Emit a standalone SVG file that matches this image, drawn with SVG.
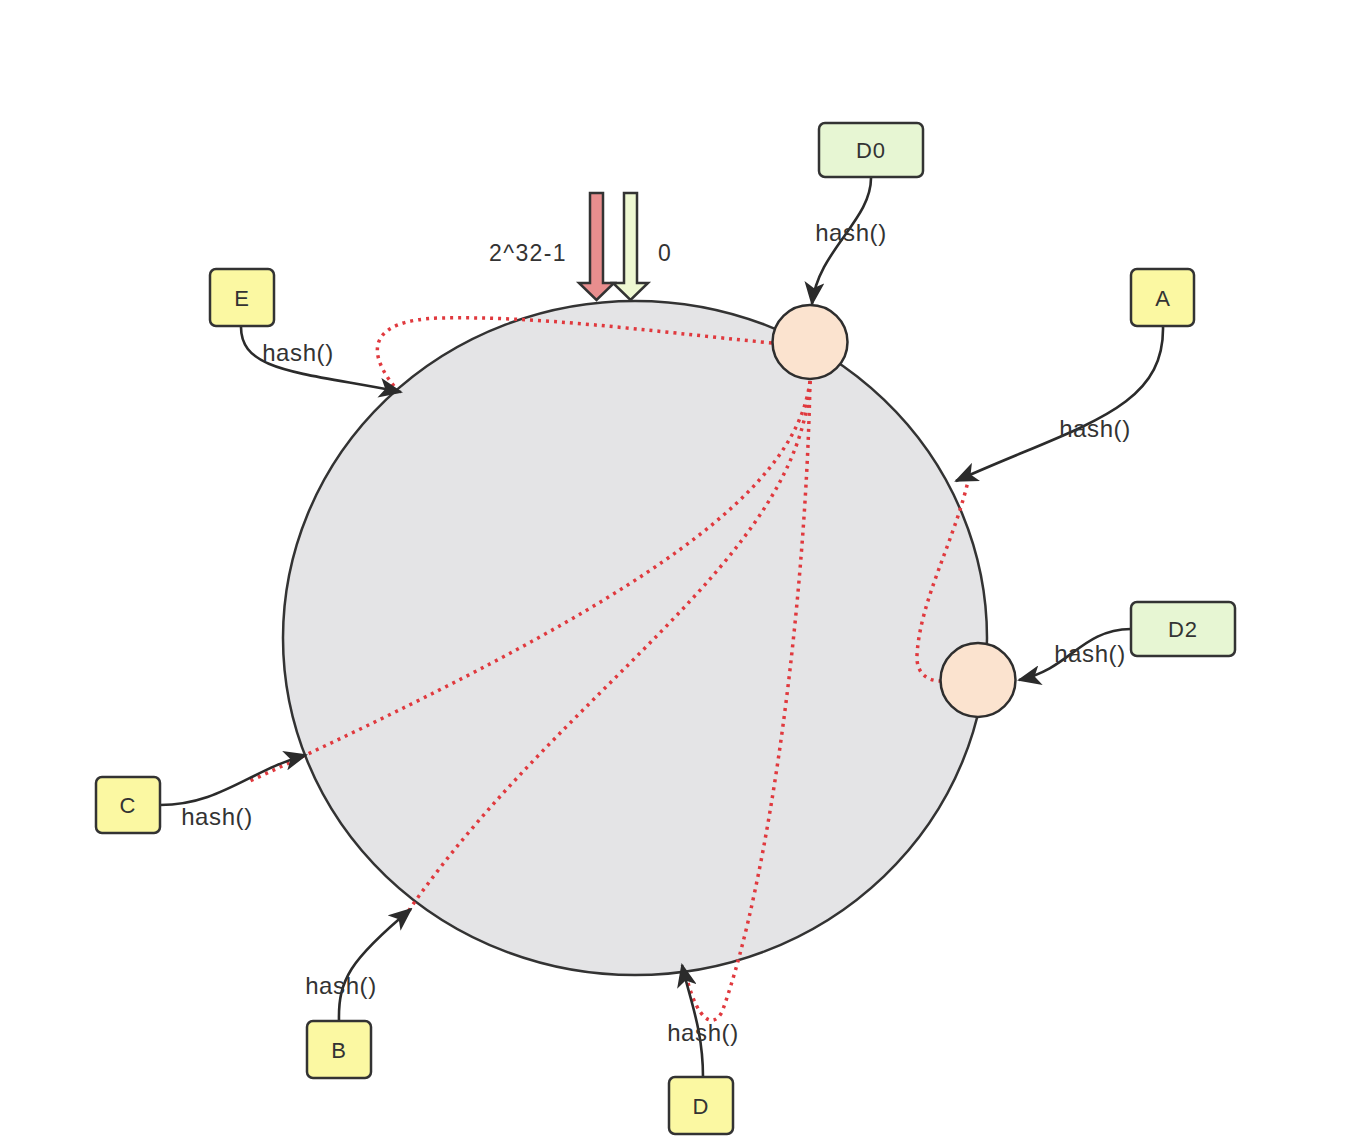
<svg xmlns="http://www.w3.org/2000/svg" width="1362" height="1148" viewBox="0 0 1362 1148">
  <defs>
    <marker id="arrow" viewBox="0 0 24 20" refX="22" refY="10" markerWidth="24" markerHeight="20" markerUnits="userSpaceOnUse" orient="auto">
      <path d="M0,0 L24,10 L0,20 L6,10 Z" fill="#2b2b2b"/>
    </marker>
    <style>
      .ring { fill: #e4e4e6; stroke: #333333; stroke-width: 2.5; }
      .server { fill: #fbe3cf; stroke: #2e2e2e; stroke-width: 2.5; }
      .key { fill: #fbf8a2; stroke: #333333; stroke-width: 2.5; }
      .data { fill: #e7f6d3; stroke: #333333; stroke-width: 2.5; }
      .edge { fill: none; stroke: #2b2b2b; stroke-width: 2.6; marker-end: url(#arrow); }
      .route { fill: none; stroke: #e0393e; stroke-width: 3.5; stroke-dasharray: 3 5; stroke-linecap: butt; }
      .lbl { font-family: "Liberation Sans", Arial, sans-serif; font-size: 22px; fill: #333333; text-anchor: middle; letter-spacing: 1px; }
      .hash { font-family: "Liberation Sans", Arial, sans-serif; font-size: 24px; fill: #333333; text-anchor: middle; letter-spacing: 0.6px; }
      .num { font-family: "Liberation Sans", Arial, sans-serif; font-size: 23px; fill: #333333; letter-spacing: 1.4px; }
    </style>
  </defs>

  <rect width="1362" height="1148" fill="#ffffff"/>

  <!-- hash ring -->
  <g id="ring">
    <ellipse class="ring" cx="635" cy="638" rx="352" ry="337"/>
  </g>

  <!-- start / end markers of the hash space -->
  <g id="ring-ends">
    <path d="M590,193 H603 V283 H614 L596.5,300 L579,283 H590 Z" fill="#e88e8e" stroke="#333333" stroke-width="2.5" stroke-linejoin="miter"/>
    <path d="M624,193 H637 V283 H648 L630.5,300 L613,283 H624 Z" fill="#eef8d2" stroke="#333333" stroke-width="2.5" stroke-linejoin="miter"/>
    <text class="num" x="489" y="261">2^32-1</text>
    <text class="num" x="658" y="261">0</text>
  </g>

  <!-- routing of keys to their servers -->
  <g id="routes">
    <path class="route" d="M772,343 C640,330 540,316 440,318 C370,320 365,350 394,386"/>
    <path class="route" d="M810,381 C795,500 620,610 250,781"/>
    <path class="route" d="M810,381 C800,560 560,690 407,913"/>
    <path class="route" d="M810,381 C806,600 770,880 722,1012 C712,1030 698,1018 688,983"/>
    <path class="route" d="M969,477 C955,540 920,600 917,655 C916,674 928,681 941,681"/>
  </g>

  <!-- hash() connectors -->
  <g id="connectors">
    <path class="edge" d="M871,177 C872,220 818,250 812,304"/>
    <path class="edge" d="M241,326 C240,372 300,372 401,392"/>
    <path class="edge" d="M1163,326 C1165,410 1080,425 956,481"/>
    <path class="edge" d="M1131,629 C1080,630 1072,668 1019,680"/>
    <path class="edge" d="M160,805 C220,805 250,770 306,755"/>
    <path class="edge" d="M339,1021 C338,980 350,960 411,909"/>
    <path class="edge" d="M703,1077 C703,1030 690,1000 682,965"/>
  </g>

  <!-- connector labels -->
  <g id="hash-labels">
    <text class="hash" x="851" y="241">hash()</text>
    <text class="hash" x="298" y="361">hash()</text>
    <text class="hash" x="1095" y="437">hash()</text>
    <text class="hash" x="1090" y="662">hash()</text>
    <text class="hash" x="217" y="825">hash()</text>
    <text class="hash" x="341" y="994">hash()</text>
    <text class="hash" x="703" y="1041">hash()</text>
  </g>

  <!-- servers on the ring -->
  <g id="server-top">
    <ellipse class="server" cx="810" cy="342" rx="37.5" ry="37"/>
  </g>
  <g id="server-right">
    <ellipse class="server" cx="978" cy="680" rx="37.5" ry="37"/>
  </g>

  <!-- data nodes -->
  <g id="node-D0">
    <rect class="data" x="819" y="123" width="104" height="54" rx="6"/>
    <text class="lbl" x="871" y="158">D0</text>
  </g>
  <g id="node-D2">
    <rect class="data" x="1131" y="602" width="104" height="54" rx="6"/>
    <text class="lbl" x="1183" y="637">D2</text>
  </g>

  <!-- key nodes -->
  <g id="node-E">
    <rect class="key" x="210" y="269" width="64" height="57" rx="6"/>
    <text class="lbl" x="242" y="306">E</text>
  </g>
  <g id="node-A">
    <rect class="key" x="1131" y="269" width="63" height="57" rx="6"/>
    <text class="lbl" x="1163" y="306">A</text>
  </g>
  <g id="node-C">
    <rect class="key" x="96" y="777" width="64" height="56" rx="6"/>
    <text class="lbl" x="128" y="813">C</text>
  </g>
  <g id="node-B">
    <rect class="key" x="307" y="1021" width="64" height="57" rx="6"/>
    <text class="lbl" x="339" y="1058">B</text>
  </g>
  <g id="node-D">
    <rect class="key" x="669" y="1077" width="64" height="57" rx="6"/>
    <text class="lbl" x="701" y="1114">D</text>
  </g>
</svg>
